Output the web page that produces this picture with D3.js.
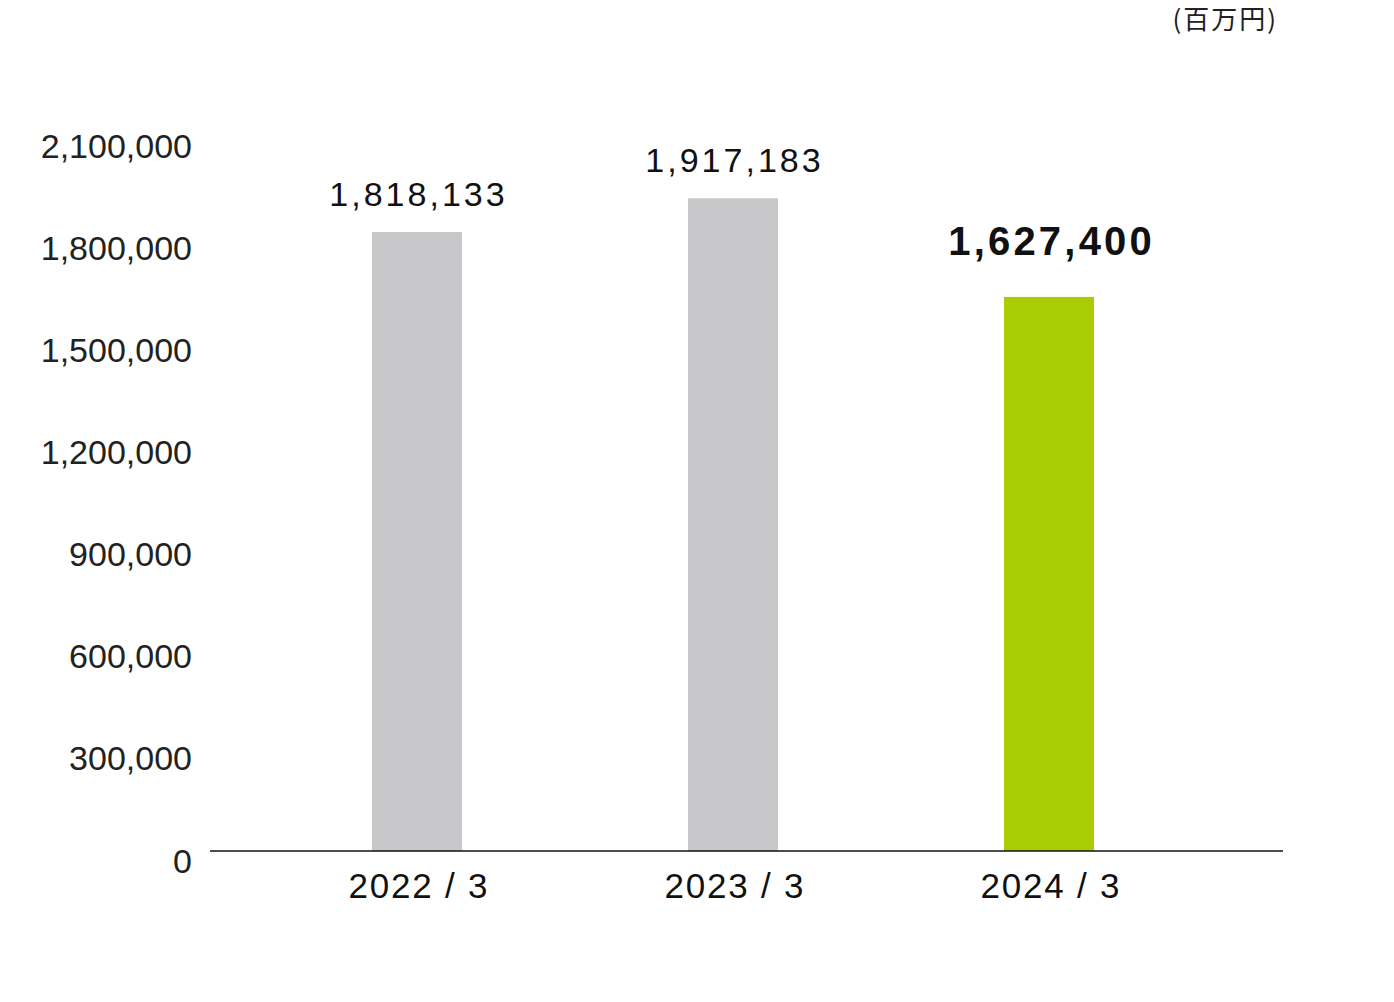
<!DOCTYPE html>
<html><head><meta charset="utf-8">
<script src="https://cdn.jsdelivr.net/npm/d3@7"></script>
<style>html,body{margin:0;padding:0;background:#fff;}</style>
</head><body>
<script>
const categories = ["2022 / 3", "2023 / 3", "2024 / 3"];
const values = [1818133, 1917183, 1627400];
const tickValues = [0, 300000, 600000, 900000, 1200000, 1500000, 1800000, 2100000];
const unitLabel = "(百万円)";
const barColors = ["#c8c8ca", "#c8c8ca", "#aacc03"];

const W = 1394, H = 1002;
const svg = d3.select("body").append("svg").attr("width", W).attr("height", H);
const font = "'Liberation Sans', Arial, Helvetica, sans-serif";

const y = d3.scaleLinear().domain([0, 2100000]).range([851, 136]);
const x = d3.scaleBand().domain(categories).range([259, 1207]).paddingInner(0.7152).paddingOuter(0.3576);

// y tick labels
svg.append("g").selectAll("text").data(tickValues).join("text")
  .attr("x", 192).attr("y", d => y(d) + 21.5)
  .attr("text-anchor", "end")
  .attr("font-family", font).attr("font-size", 34).attr("fill", "#222")
  .text(d => d3.format(",")(d));

// bars
svg.append("g").selectAll("rect").data(values).join("rect")
  .attr("x", (d, i) => x(categories[i]))
  .attr("width", x.bandwidth())
  .attr("y", d => y(d))
  .attr("height", d => y(0) - y(d))
  .attr("fill", (d, i) => barColors[i]);

// value labels
const isLast = i => i === values.length - 1;
svg.append("g").selectAll("text").data(values).join("text")
  .attr("x", (d, i) => x(categories[i]) + x.bandwidth() / 2 + (isLast(i) ? 2.6 : 1.5))
  .attr("y", (d, i) => isLast(i) ? y(d) - 42 : y(d) - 26)
  .attr("text-anchor", "middle")
  .attr("font-family", font)
  .attr("font-size", (d, i) => isLast(i) ? 40 : 34)
  .attr("font-weight", (d, i) => isLast(i) ? "bold" : "normal")
  .attr("letter-spacing", (d, i) => isLast(i) ? "3.2px" : "3px")
  .attr("fill", "#111")
  .text(d => d3.format(",")(d));

// x axis
const gx = svg.append("g").attr("transform", "translate(0,851)");
gx.append("line").attr("x1", 210).attr("x2", 1283).attr("y1", 0).attr("y2", 0)
  .attr("stroke", "#111").attr("stroke-width", 1.6);
gx.selectAll("text.cat").data(categories).join("text").attr("class", "cat")
  .attr("x", d => x(d) + x.bandwidth() / 2 + 1.9)
  .attr("y", 47)
  .attr("text-anchor", "middle")
  .attr("font-family", font).attr("font-size", 35).attr("fill", "#111")
  .attr("letter-spacing", "1.8px")
  .text(d => d);

// unit label
svg.append("text").attr("x", 1278).attr("y", 29).attr("text-anchor", "end")
  .attr("font-family", "'Noto Sans CJK JP', sans-serif").attr("font-size", 26)
  .attr("letter-spacing", "2px").attr("fill", "#222")
  .text(unitLabel);
</script>
</body></html>
